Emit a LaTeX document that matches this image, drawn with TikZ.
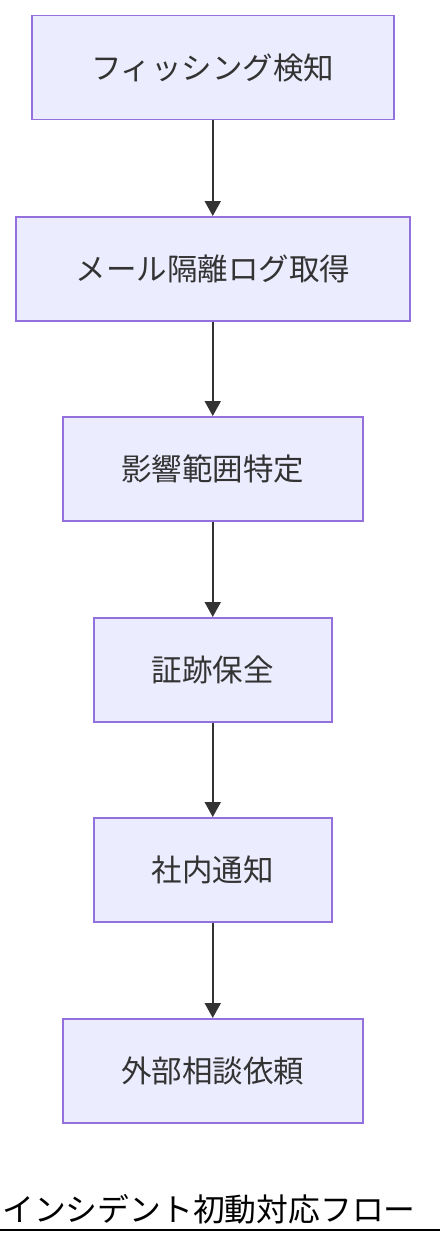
\documentclass[tikz,border=0pt]{standalone}
\usepackage{fontspec}
\setmainfont{Noto Sans CJK JP}
\usetikzlibrary{arrows.meta}
\definecolor{boxfill}{HTML}{ECECFF}
\definecolor{boxline}{HTML}{9370DB}
\definecolor{txt}{HTML}{333333}
\tikzset{
  stepbox/.style={draw=boxline, fill=boxfill, line width=1.5pt, inner sep=0pt,
    text=txt, font=\fontsize{30.5pt}{34pt}\selectfont, anchor=north west},
  flow/.style={draw=txt, line width=2pt, -{Triangle[length=15pt,width=16pt]}}
}
\begin{document}
\begin{tikzpicture}[x=1pt,y=1pt]
\useasboundingbox (0,0) rectangle (440,-1244);
\node[stepbox, minimum width=362pt, minimum height=104pt] (n1) at (31,-15) {フィッシング検知};
\node[stepbox, minimum width=394pt, minimum height=104pt] (n2) at (15,-216) {メール隔離ログ取得};
\node[stepbox, minimum width=300pt, minimum height=104pt] (n3) at (62,-416) {影響範囲特定};
\node[stepbox, minimum width=238pt, minimum height=104pt] (n4) at (93,-617) {証跡保全};
\node[stepbox, minimum width=238pt, minimum height=104pt] (n5) at (93,-817) {社内通知};
\node[stepbox, minimum width=300pt, minimum height=104pt] (n6) at (62,-1018) {外部相談依頼};
\draw[flow] (n1) -- (n2);
\draw[flow] (n2) -- (n3);
\draw[flow] (n3) -- (n4);
\draw[flow] (n4) -- (n5);
\draw[flow] (n5) -- (n6);
\node[anchor=base west, inner sep=0pt, font=\fontsize{31.8pt}{34pt}\selectfont] (title) at (2,-1221) {インシデント初動対応フロー};
\coordinate (l1) at (0,-1230);
\coordinate (l2) at (440,-1230);
\draw[line width=2pt] (l1) -- (l2);
\end{tikzpicture}
\end{document}
